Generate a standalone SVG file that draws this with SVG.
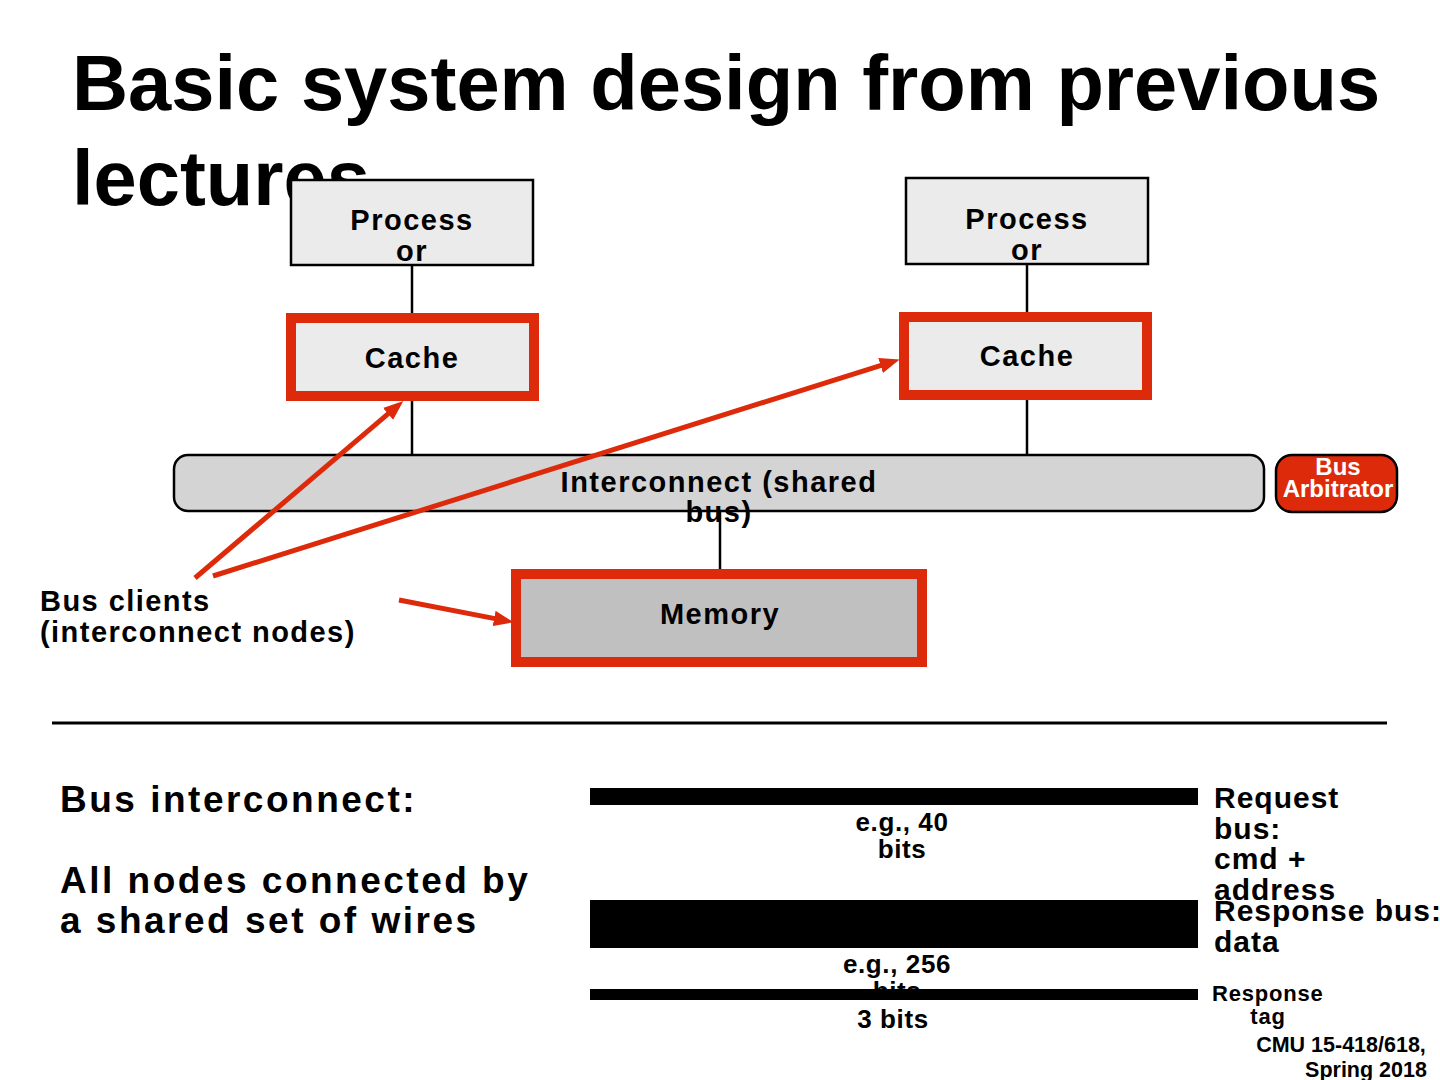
<svg xmlns="http://www.w3.org/2000/svg" width="1440" height="1080" viewBox="0 0 1440 1080">
<style>
text{font-family:"Liberation Sans",Arial,sans-serif;font-weight:bold;fill:#000}
.title{font-size:77.7px}
.nt{font-size:29px;letter-spacing:1.5px;text-anchor:middle}
.proc{fill:#ebebeb;stroke:#000;stroke-width:2.5}
.hl{stroke:#dd2a0a;stroke-width:10}
.wire{stroke:#000;stroke-width:2.5;fill:none}
.arrow{stroke:#dd2a0a;stroke-width:5;fill:none;marker-end:url(#ah)}
.lbl{font-size:29px;letter-spacing:1.45px}
.big{font-size:37px;letter-spacing:2.5px}
.mid{font-size:30px;letter-spacing:1px}
.sm{font-size:26px;letter-spacing:0.6px;text-anchor:middle}
.bar{fill:#000}
</style>
<defs>
<marker id="ah" markerUnits="userSpaceOnUse" markerWidth="20" markerHeight="16" viewBox="0 0 18 14" refX="2" refY="7" orient="auto">
<path d="M0,0 L18,7 L0,14 z" fill="#dd2a0a"/>
</marker>
</defs>
<rect width="1440" height="1080" fill="#fff"/>
<g id="title">
<text class="title" x="72" y="110">Basic system design from previous</text>
<text class="title" x="72" y="205">lectures</text>
</g>
<g id="wires">
<line class="wire" x1="412" y1="265" x2="412" y2="314"/>
<line class="wire" x1="1027" y1="264" x2="1027" y2="313"/>
<line class="wire" x1="412" y1="400" x2="412" y2="456"/>
<line class="wire" x1="1027" y1="399" x2="1027" y2="456"/>
<line class="wire" x1="720" y1="510" x2="720" y2="570"/>
</g>
<g id="proc1">
<rect class="proc" x="291" y="180" width="242" height="85"/>
<text class="nt" x="412" y="230">Process</text>
<text class="nt" x="412" y="261">or</text>
</g>
<g id="proc2">
<rect class="proc" x="906" y="178" width="242" height="86"/>
<text class="nt" x="1027" y="229">Process</text>
<text class="nt" x="1027" y="260">or</text>
</g>
<g id="cache1">
<rect class="hl" x="291" y="318" width="243" height="78" fill="#ebebeb"/>
<text class="nt" x="412" y="368">Cache</text>
</g>
<g id="cache2">
<rect class="hl" x="904" y="317" width="243" height="78" fill="#ebebeb"/>
<text class="nt" x="1027" y="366">Cache</text>
</g>
<g id="bus">
<rect x="174" y="455" width="1090" height="56" rx="14" fill="#d4d4d4" stroke="#000" stroke-width="2.5"/>
<text class="nt" x="719" y="492">Interconnect (shared</text>
<text class="nt" x="719" y="522">bus)</text>
</g>
<g id="arbiter">
<rect x="1276" y="455" width="121" height="57" rx="16" fill="#dd2a0a" stroke="#000" stroke-width="2.5"/>
<text x="1338" y="475" font-size="24" text-anchor="middle" style="fill:#fff">Bus</text>
<text x="1338" y="497" font-size="24" text-anchor="middle" style="fill:#fff">Arbitrator</text>
</g>
<g id="memory">
<rect class="hl" x="516" y="574" width="406" height="88" fill="#c0c0c0"/>
<text class="nt" x="720" y="624">Memory</text>
</g>
<g id="clients">
<text class="lbl" x="40" y="611">Bus clients</text>
<text class="lbl" x="40" y="642">(interconnect nodes)</text>
</g>
<g id="connectors">
<line class="arrow" x1="195" y1="578" x2="389.8" y2="412.4"/>
<line class="arrow" x1="213" y1="576" x2="882.7" y2="364.8"/>
<line class="arrow" x1="399" y1="600" x2="496.3" y2="618.9"/>
</g>
<line x1="52" y1="723" x2="1387" y2="723" stroke="#000" stroke-width="3"/>
<g id="desc">
<text class="big" x="60" y="812">Bus interconnect:</text>
<text class="big" x="60" y="893">All nodes connected by</text>
<text class="big" x="60" y="933">a shared set of wires</text>
</g>
<g id="wiresets">
<text class="sm" x="902" y="831">e.g., 40</text>
<text class="sm" x="902" y="858">bits</text>
<text class="sm" x="897" y="973">e.g., 256</text>
<text class="sm" x="897" y="1000">bits</text>
<rect class="bar" x="590" y="788" width="608" height="17"/>
<rect class="bar" x="590" y="900" width="608" height="48"/>
<rect class="bar" x="590" y="989" width="608" height="11"/>
<text class="sm" x="893" y="1028">3 bits</text>
</g>
<g id="buslabels">
<text class="mid" x="1214" y="808">Request</text>
<text class="mid" x="1214" y="839">bus:</text>
<text class="mid" x="1214" y="869">cmd +</text>
<text class="mid" x="1214" y="900">address</text>
<text class="mid" x="1214" y="921">Response bus:</text>
<text class="mid" x="1214" y="952">data</text>
<text x="1212" y="1001" font-size="22" letter-spacing="0.8">Response</text>
<text x="1268" y="1024" font-size="22" letter-spacing="0.8" text-anchor="middle">tag</text>
</g>
<g id="footer">
<text x="1341" y="1052" font-size="21.5" text-anchor="middle">CMU 15-418/618,</text>
<text x="1366" y="1077" font-size="21.5" text-anchor="middle">Spring 2018</text>
</g>
</svg>
